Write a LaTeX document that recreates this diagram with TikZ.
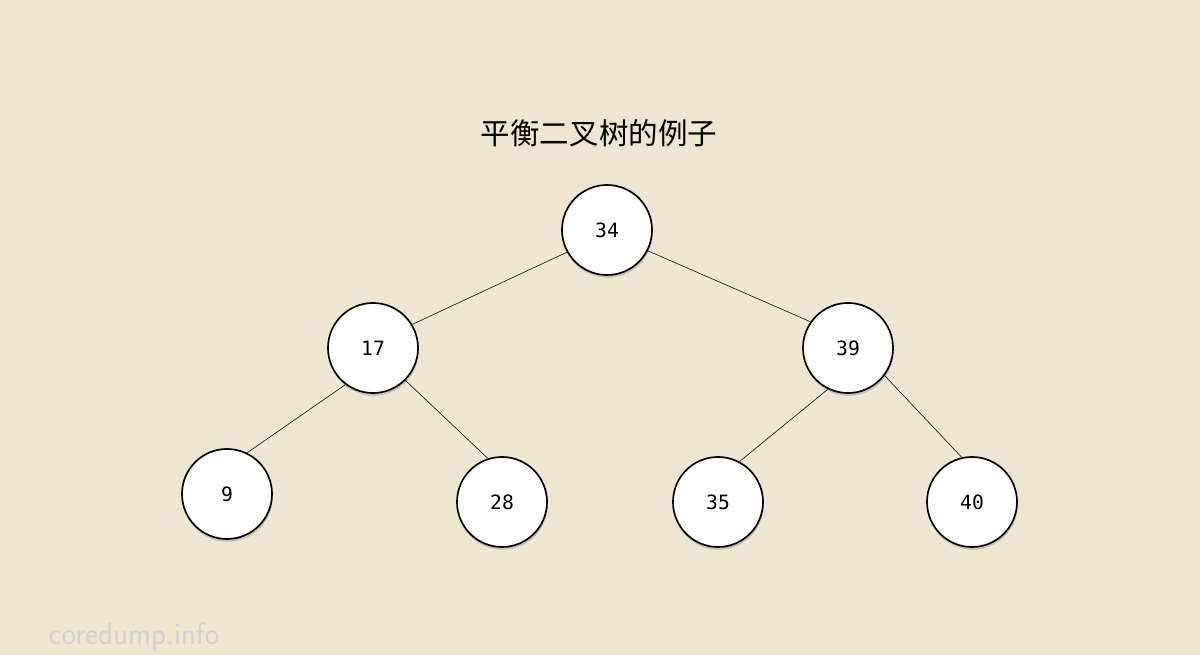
\documentclass[tikz,border=0pt]{standalone}
\usepackage{fontspec}
\setmonofont{DejaVu Sans Mono}
\newfontfamily\cjk{Noto Sans CJK SC}
\usetikzlibrary{shadows}
\definecolor{bg}{HTML}{EFE6D1}
\begin{document}
\begin{tikzpicture}[x=0.025cm,y=-0.025cm,
  tnode/.style={circle,draw=black,line width=1.2pt,fill=white,minimum size=2.25cm,inner sep=0pt,font=\ttfamily\fontsize{14}{16}\selectfont,drop shadow={shadow xshift=0.5pt,shadow yshift=-2pt,opacity=0.35}},
  edge/.style={draw=black,line width=0.4pt}]
\fill[bg] (0,0) rectangle (1200,655);
\useasboundingbox (0,0) rectangle (1200,655);
\node[font=\cjk\fontsize{21}{25}\selectfont] (title) at (599,133) {平衡二叉树的例子};
\node[tnode] (n34) at (607,230) {34};
\node[tnode] (n17) at (373,348) {17};
\node[tnode] (n39) at (848,348) {39};
\node[tnode] (n9) at (227,494) {9};
\node[tnode] (n28) at (502,502) {28};
\node[tnode] (n35) at (718,502) {35};
\node[tnode] (n40) at (972,502) {40};
\draw[edge] (n34.209) -- (n17.31);
\draw[edge] (n34.-27) -- (n39.145);
\draw[edge] (n17.233) -- (n9.64);
\draw[edge] (n17.-45) -- (n28.108);
\draw[edge] (n39.244) -- (n35.62);
\draw[edge] (n39.-37) -- (n40.103);
\node[text=black!18,font=\sffamily\fontsize{22}{24}\selectfont] (wm) at (134,637) {coredump.info};
\end{tikzpicture}
\end{document}
